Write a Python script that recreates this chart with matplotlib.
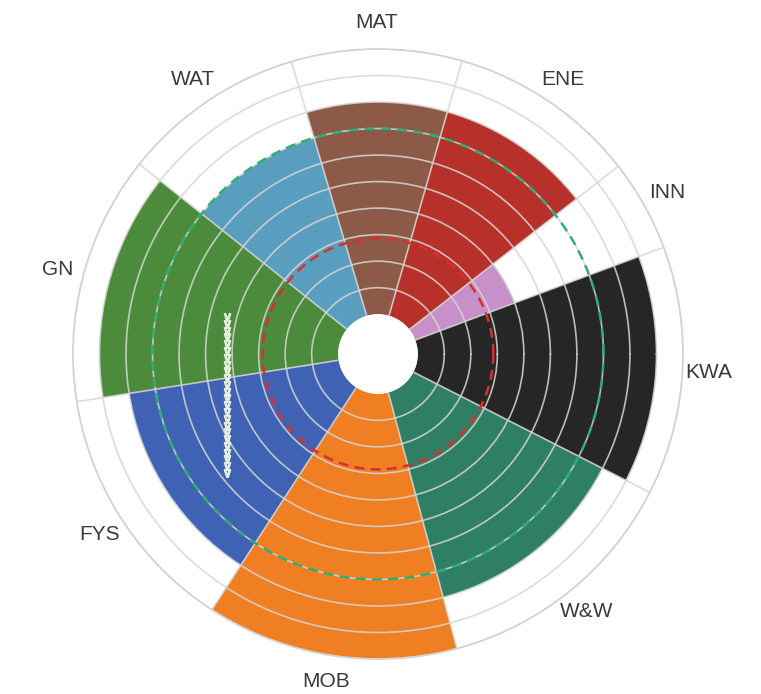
import numpy as np
import matplotlib
matplotlib.use('agg')
import matplotlib.pyplot as plt

plt.rcParams['font.family'] = ['Liberation Sans', 'DejaVu Sans']

# sectors, counter-clockwise starting at the INN/KWA boundary
categories = ['INN', 'ENE', 'MAT', 'WAT', 'GN', 'FYS', 'MOB', 'W&W', 'KWA']
scores = [4, 8, 8, 7, 9, 8, 10, 8, 9]
widths_deg = [17.5, 36, 32.5, 35, 47.5, 48, 48, 48, 47.5]
colors = ['#c790c8', '#b8302a', '#8c5a46', '#5a9ebf', '#4b8b3b',
          '#4062b5', '#ef7f22', '#2f7f64', '#262626']
red_level = 2.85
green_level = 7

start_deg = 20.5
edges = start_deg + np.concatenate([[0], np.cumsum(widths_deg)])
centers = (edges[:-1] + edges[1:]) / 2

fig = plt.figure(figsize=(7.61, 6.94), dpi=100)
ax = fig.add_axes([0.0959, 0.0504, 0.8016, 0.879], projection='polar')

ax.bar(np.deg2rad(centers), scores, width=np.deg2rad(widths_deg), bottom=0,
       color=colors, edgecolor='none', zorder=1)

ax.set_rorigin(-1.5)
ax.set_ylim(0, 10)
ax.set_yticks(range(1, 11))
ax.set_yticklabels([])

ax.set_xticks(np.deg2rad(edges[:-1]))
ax.set_xticklabels([])
ax.set_xticks(np.deg2rad(centers), minor=True)
ax.set_xticklabels(categories, minor=True, fontsize=15, color='#3a3a3a')
ax.tick_params(axis='x', which='minor', pad=12, length=0)
ax.tick_params(axis='x', which='major', length=0)
ax.tick_params(axis='y', length=0)

ax.grid(True, color='#d6d6d6', lw=1.2, alpha=0.85)
ax.set_axisbelow(False)
ax.spines['polar'].set_color('#d0d0d0')
ax.spines['polar'].set_linewidth(1.2)
ax.spines['inner'].set_color('none')  # no ring round the hole

# dashed reference circles
theta = np.linspace(0, 2 * np.pi, 500)
ax.plot(theta, np.full_like(theta, red_level), color='#d9302a', lw=1.8,
        ls=(0, (4, 2.5)), zorder=4)
ax.plot(theta, np.full_like(theta, green_level), color='#2fae74', lw=1.8,
        ls=(0, (4, 2.5)), zorder=4)

# white chevron arrow over GN / FYS
n_chev = 24
ax.plot(np.full(n_chev, 0.2983), np.linspace(0.5432, 0.3184, n_chev),
        transform=fig.transFigure, ls='none', marker='$\\vee$', ms=5.5,
        color='#e6eee0', zorder=5, clip_on=False)

fig.savefig('out.png', dpi=100)
